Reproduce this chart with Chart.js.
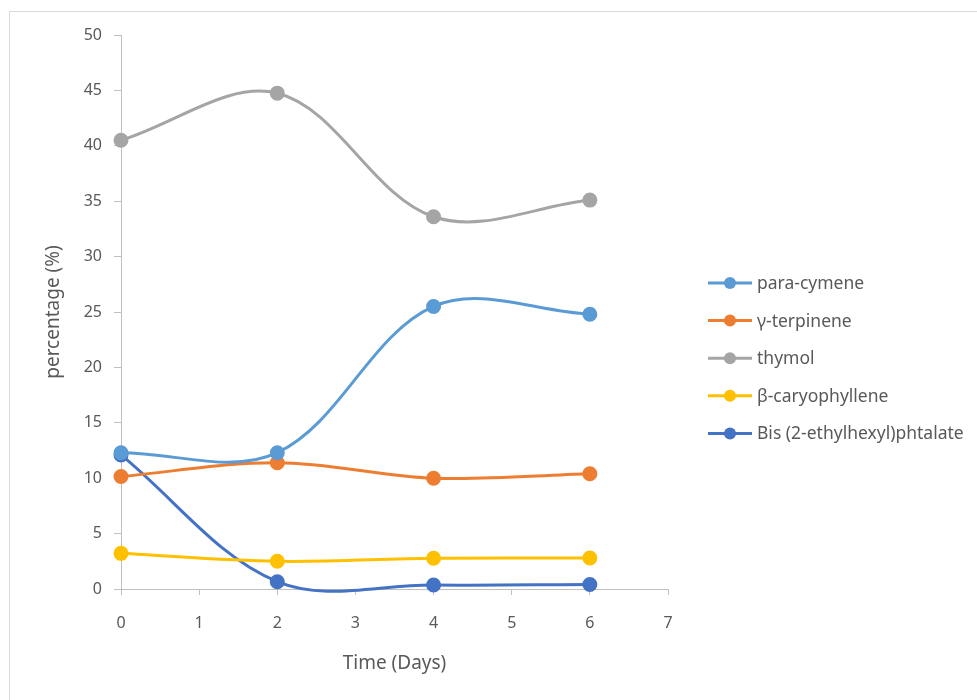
<!DOCTYPE html>
<html>
<head>
<meta charset="utf-8">
<script src="https://cdn.jsdelivr.net/npm/chart.js@4.4.1/dist/chart.umd.min.js"></script>
<style>
  html, body { margin: 0; padding: 0; background: #fff; overflow: hidden; }
  #wrap  { position: relative; width: 977px; height: 700px; }
  #frame { position: absolute; left: 9px; top: 11px; width: 1000px; height: 1000px; border: 1px solid #d9d9d9; box-sizing: border-box; }
  canvas { position: absolute; left: 0; top: 0; }
</style>
</head>
<body>
<div id="wrap">
  <div id="frame"></div>
  <canvas id="chart" width="977" height="700"></canvas>
</div>
<script>
const days         = [0, 2, 4, 6];
const paraCymene   = [12.3, 12.3, 25.5, 24.8];
const gTerpinene   = [10.15, 11.4, 10.0, 10.4];
const thymol       = [40.5, 44.75, 33.6, 35.1];
const bCaryophyll  = [3.22, 2.5, 2.78, 2.8];
const bisPhtalate  = [12.1, 0.66, 0.36, 0.4];

const xTicks = { min: 0, max: 7, step: 1 };
const yTicks = { min: 0, max: 50, step: 5 };

const FONT  = "'Noto Sans', 'Open Sans', sans-serif";
const INK   = '#595959';
const AXIS  = '#bfbfbf';

const series = [
  { label: 'para-cymene',                values: paraCymene,  color: '#5B9BD5' },
  { label: '\u03B3-terpinene',           values: gTerpinene,  color: '#ED7D31' },
  { label: 'thymol',                     values: thymol,      color: '#A5A5A5' },
  { label: '\u03B2-caryophyllene',       values: bCaryophyll, color: '#FFC000' },
  { label: 'Bis (2-ethylhexyl)phtalate', values: bisPhtalate, color: '#4472C4' },
];

// legend drawn on the right, excel style (line + marker)
const sideLegend = {
  id: 'sideLegend',
  afterDraw(chart, args, o) {
    const ctx = chart.ctx;
    ctx.save();
    chart.data.datasets.forEach((ds, i) => {
      const y = o.top + i * o.gap;
      ctx.strokeStyle = ds.borderColor;
      ctx.lineWidth = 3;
      ctx.beginPath();
      ctx.moveTo(o.left, y);
      ctx.lineTo(o.left + o.lineLen, y);
      ctx.stroke();
      ctx.fillStyle = ds.borderColor;
      ctx.beginPath();
      ctx.arc(o.left + o.lineLen / 2, y, 6, 0, Math.PI * 2);
      ctx.fill();
      ctx.fillStyle = INK;
      ctx.font = o.font;
      ctx.textBaseline = 'middle';
      ctx.fillText(ds.label, o.left + o.lineLen + 5, y + 1);
    });
    ctx.restore();
  }
};

new Chart(document.getElementById('chart'), {
  type: 'line',
  data: {
    datasets: series.map(s => ({
      label: s.label,
      data: days.map((d, i) => ({ x: d, y: s.values[i] })),
      borderColor: s.color,
      backgroundColor: s.color,
      pointBackgroundColor: s.color,
      pointBorderColor: s.color,
      pointRadius: 6,
      pointHoverRadius: 6,
      borderWidth: 3,
      tension: 0.35,
      clip: false,
    })),
  },
  options: {
    responsive: false,
    animation: false,
    events: [],
    layout: { padding: { left: 42, top: 35, right: 309, bottom: 25 } },
    elements: { line: { capBezierPoints: false } },
    plugins: {
      legend: { display: false },
      tooltip: { enabled: false },
      sideLegend: { left: 708, top: 283, gap: 37.6, lineLen: 44, font: `17.5px ${FONT}` },
    },
    scales: {
      x: {
        type: 'linear',
        min: xTicks.min, max: xTicks.max,
        afterFit: s => { s.height = 86; },
        border: { display: true, color: AXIS, width: 1 },
        grid: { drawOnChartArea: false, drawTicks: true, tickLength: 6, color: AXIS },
        ticks: { stepSize: xTicks.step, color: INK, padding: 19, font: { family: FONT, size: 16 } },
        title: { display: true, text: 'Time (Days)', color: INK, padding: 0, font: { family: FONT, size: 19 } },
      },
      y: {
        min: yTicks.min, max: yTicks.max,
        afterFit: s => { s.width = 79; },
        border: { display: true, color: AXIS, width: 1 },
        grid: { drawOnChartArea: false, drawTicks: true, tickLength: 7, color: AXIS },
        ticks: { stepSize: yTicks.step, color: INK, padding: 12, font: { family: FONT, size: 16 } },
        title: { display: true, text: 'percentage (%)', color: INK, padding: 0, font: { family: FONT, size: 19 } },
      },
    },
  },
  plugins: [sideLegend],
});
</script>
</body>
</html>
